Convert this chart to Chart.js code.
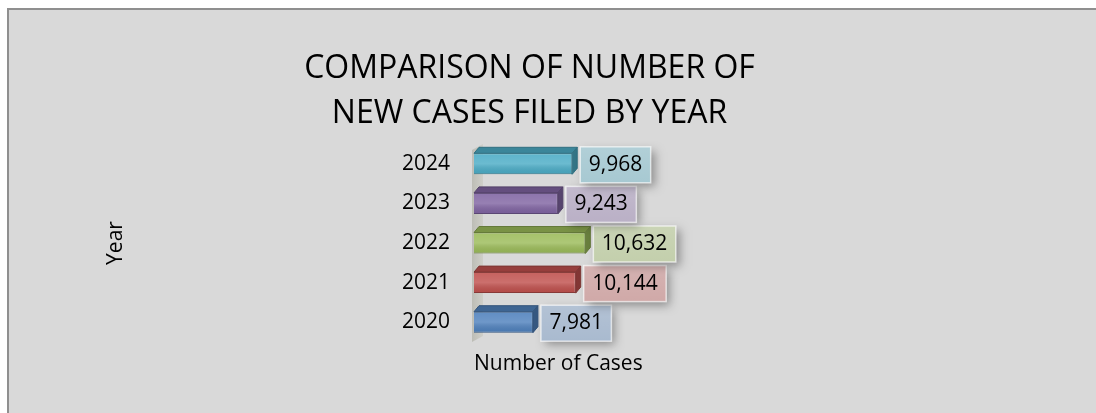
<!DOCTYPE html>
<html>
<head>
<meta charset="utf-8">
<script src="https://cdn.jsdelivr.net/npm/chart.js@4"></script>
<style>
html, body { margin: 0; padding: 0; background: #fff; overflow: hidden; }
#frame { position: absolute; left: 7px; top: 8px; width: 1200px; height: 500px; background: #d9d9d9; border: 2px solid #8f8f8f; }
#casesChart { position: absolute; left: 0; top: 0; }
</style>
</head>
<body>
<div id="frame"></div>
<canvas id="casesChart" width="1096" height="413"></canvas>
<script>
var years = ['2020', '2021', '2022', '2023', '2024'];
var newCases = [7981, 10144, 10632, 9243, 9968];
var barColors = ['#4f81bd', '#c0504d', '#9bbb59', '#8064a2', '#4bacc6'];
var chartTitle = ['COMPARISON OF NUMBER OF', 'NEW CASES FILED BY YEAR'];
var xTitle = 'Number of Cases';
var yTitle = 'Year';

function rgb(hex) {
    return [parseInt(hex.substr(1, 2), 16), parseInt(hex.substr(3, 2), 16), parseInt(hex.substr(5, 2), 16)];
}
function shade(hex, f) {
    var c = rgb(hex);
    return 'rgb(' + Math.round(c[0] * f) + ',' + Math.round(c[1] * f) + ',' + Math.round(c[2] * f) + ')';
}
function mix(hex, a, bg) {
    var c = rgb(hex);
    return 'rgb(' + Math.round(c[0] * a + bg * (1 - a)) + ',' + Math.round(c[1] * a + bg * (1 - a)) + ',' + Math.round(c[2] * a + bg * (1 - a)) + ')';
}

// excel-ish 3d look: back wall, top + side faces, boxed labels
var bars3d = {
    id: 'bars3d',
    beforeDatasetsDraw: function (chart) {
        var a = chart.chartArea, ctx = chart.ctx;
        ctx.save();
        ctx.beginPath();
        ctx.moveTo(a.left - 2, a.top + 6);
        ctx.lineTo(a.left + 9, a.top);
        ctx.lineTo(a.left + 9, a.bottom - 6);
        ctx.lineTo(a.left - 2, a.bottom);
        ctx.closePath();
        var g = ctx.createLinearGradient(a.left - 2, 0, a.left + 9, 0);
        g.addColorStop(0, '#bdbdb6');
        g.addColorStop(1, '#cfcfc9');
        ctx.fillStyle = g;
        ctx.fill();
        ctx.restore();
    },
    afterDatasetsDraw: function (chart) {
        var ctx = chart.ctx;
        var meta = chart.getDatasetMeta(0);
        var dx = 5, dy = 6;
        meta.data.forEach(function (bar, i) {
            var col = barColors[i];
            var top = bar.y - bar.height / 2, bot = bar.y + bar.height / 2;
            var end = bar.x, base = Math.max(bar.base, chart.chartArea.left);
            ctx.save();
            // soft highlight on the front face
            var g = ctx.createLinearGradient(0, top, 0, bot);
            g.addColorStop(0, 'rgba(255,255,255,0.10)');
            g.addColorStop(0.5, 'rgba(255,255,255,0.18)');
            g.addColorStop(1, 'rgba(0,0,0,0.06)');
            ctx.fillStyle = g;
            ctx.fillRect(base, top, end - base, bot - top);
            // top face
            ctx.beginPath();
            ctx.moveTo(base, top);
            ctx.lineTo(end, top);
            ctx.lineTo(end + dx, top - dy);
            ctx.lineTo(base + dx, top - dy);
            ctx.closePath();
            ctx.fillStyle = shade(col, 0.78);
            ctx.fill();
            ctx.strokeStyle = shade(col, 0.65);
            ctx.lineWidth = 1;
            ctx.stroke();
            // side face
            ctx.beginPath();
            ctx.moveTo(end, top);
            ctx.lineTo(end + dx, top - dy);
            ctx.lineTo(end + dx, bot - dy);
            ctx.lineTo(end, bot);
            ctx.closePath();
            ctx.fillStyle = shade(col, 0.68);
            ctx.fill();
            ctx.stroke();

            // value label box
            var txt = newCases[i].toLocaleString('en-US');
            ctx.font = '21px "Open Sans"';
            var w = ctx.measureText(txt).width + 17, h = 36;
            var bx = end + dx + 3, by = bar.y - h / 2 + 1;
            ctx.shadowColor = 'rgba(0,0,0,0.35)';
            ctx.shadowBlur = 9;
            ctx.shadowOffsetX = 4;
            ctx.shadowOffsetY = 4;
            ctx.fillStyle = mix(col, 0.35, 217);
            ctx.fillRect(bx, by, w, h);
            ctx.shadowColor = 'transparent';
            var lg = ctx.createLinearGradient(0, by, 0, by + h);
            lg.addColorStop(0, 'rgba(255,255,255,0.12)');
            lg.addColorStop(1, 'rgba(255,255,255,0)');
            ctx.fillStyle = lg;
            ctx.fillRect(bx, by, w, h);
            ctx.strokeStyle = 'rgba(255,255,255,0.65)';
            ctx.lineWidth = 1.5;
            ctx.strokeRect(bx, by, w, h);
            ctx.fillStyle = '#000';
            ctx.textAlign = 'center';
            ctx.textBaseline = 'middle';
            ctx.fillText(txt, bx + w / 2, by + h / 2);
            ctx.restore();
        });
    }
};

Chart.defaults.font.family = "'Open Sans'";
Chart.defaults.color = '#000';

var ctx = document.getElementById('casesChart').getContext('2d');
var casesChart = new Chart(ctx, {
    type: 'bar',
    data: {
        labels: years,
        datasets: [{
            data: newCases,
            backgroundColor: barColors,
            borderColor: barColors.map(function (c) { return shade(c, 0.75); }),
            borderWidth: 1,
            barPercentage: 0.53,
            categoryPercentage: 1.0
        }]
    },
    options: {
        indexAxis: 'y',
        responsive: false,
        animation: false,
        devicePixelRatio: 1,
        layout: { padding: { left: 103, right: 140, top: 0, bottom: 36 } },
        plugins: {
            legend: { display: false },
            tooltip: { enabled: false },
            title: {
                display: true,
                text: chartTitle,
                color: '#000',
                font: { size: 32, weight: 'normal', lineHeight: 45 / 32 },
                padding: { top: 46, bottom: 8 }
            }
        },
        scales: {
            x: {
                min: 5000,
                max: 29380,
                grid: { display: false, drawTicks: false },
                border: { display: false },
                ticks: { display: false },
                title: { display: true, text: xTitle, align: 'start', font: { size: 21 }, padding: 0 },
                afterFit: function (s) { s.height = 35; }
            },
            y: {
                reverse: true,
                grid: { display: false, drawTicks: false },
                border: { display: false },
                ticks: { font: { size: 21 }, padding: 24 },
                title: { display: true, text: yTitle, font: { size: 21 }, padding: 0 },
                afterFit: function (s) { s.width = 371; }
            }
        }
    },
    plugins: [bars3d]
});
</script>
</body>
</html>
